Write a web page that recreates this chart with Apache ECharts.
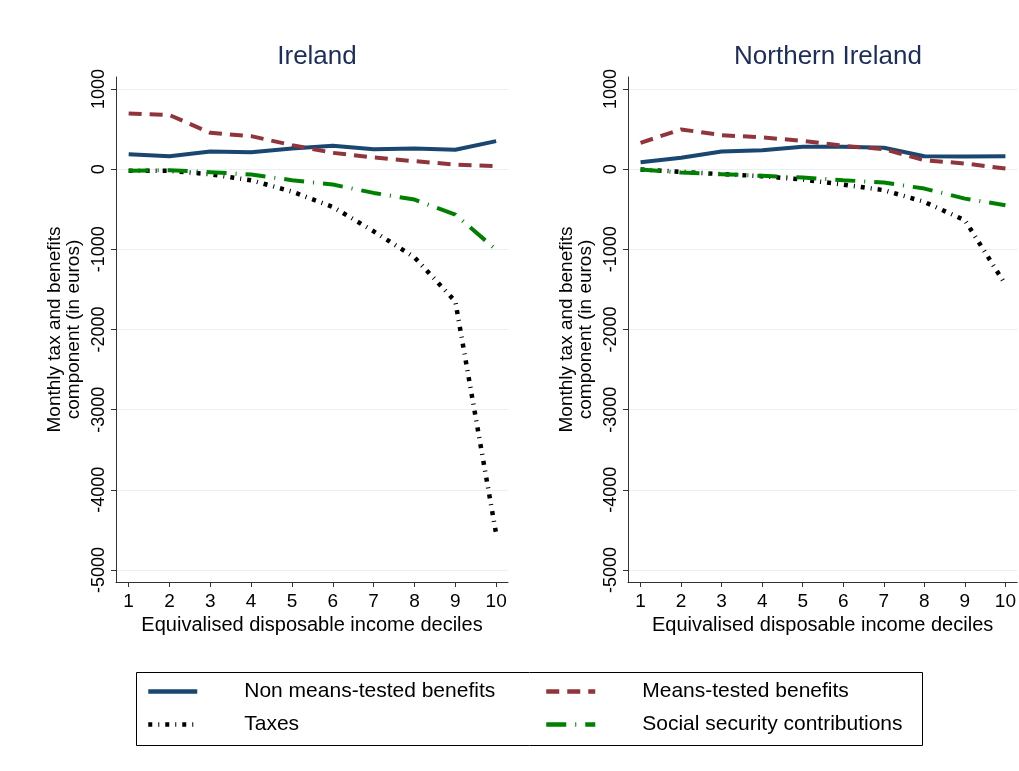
<!DOCTYPE html>
<html>
<head>
<meta charset="utf-8">
<script src="https://cdn.jsdelivr.net/npm/echarts@6/dist/echarts.min.js"></script>
<style>
html,body{margin:0;padding:0;background:#fff;}
#chart{width:1019px;height:771px;}
</style>
</head>
<body>
<div id="chart"></div>
<script>
const deciles = [1,2,3,4,5,6,7,8,9,10];
const yTicks = [-5000,-4000,-3000,-2000,-1000,0,1000];
const panelTitles = ['Ireland','Northern Ireland'];
const seriesNames = ['Non means-tested benefits','Means-tested benefits','Taxes','Social security contributions'];

// Ireland
const ieNonMeans = [187,162,221,212,258,292,250,258,242,350];
const ieMeans    = [696,675,454,412,300,204,146,100,58,38];
const ieTaxes    = [-21,-21,-63,-138,-280,-471,-775,-1100,-1650,-4550];
const ieSocial   = [-21,-12,-37,-67,-137,-192,-296,-379,-567,-1004];
// Northern Ireland
const niNonMeans = [87,142,221,237,279,279,267,162,158,162];
const niMeans    = [329,496,425,396,354,292,250,112,71,8];
const niTaxes    = [-4,-33,-62,-87,-129,-192,-262,-408,-637,-1440];
const niSocial   = [-4,-42,-62,-83,-104,-137,-167,-242,-367,-450];

const FONT = '"Liberation Sans", Arial, sans-serif';
const styles = [
  {color:'#1a476f', type:'solid', width:4},
  {color:'#90353b', type:[13,8], width:4},
  {color:'#000000', type:[4,6,1,6], width:4.5},
  {color:'#008000', type:[20,9,1,9], width:4}
];
const pair = arr => deciles.map((d,i)=>[d,arr[i]]);
const panels = [[ieNonMeans,ieMeans,ieTaxes,ieSocial],[niNonMeans,niMeans,niTaxes,niSocial]];

const grids = [
  {left:116, top:77, width:392, height:505},
  {left:628, top:77, width:392, height:505}
];
const xAxes = grids.map((g,i)=>({
  type:'value', gridIndex:i, min:0.69, max:10.29,
  name:'Equivalised disposable income deciles', nameLocation:'middle', nameGap:31,
  nameTextStyle:{fontFamily:FONT, fontSize:20, color:'#000'},
  axisLine:{show:true, onZero:false, lineStyle:{color:'#333', width:1}},
  axisTick:{show:true, length:5, customValues:deciles, lineStyle:{color:'#333'}},
  axisLabel:{customValues:deciles, fontFamily:FONT, fontSize:19, color:'#000', margin:10},
  splitLine:{show:false}
}));
const yAxes = grids.map((g,i)=>({
  type:'value', gridIndex:i, min:-5150, max:1150,
  name:'Monthly tax and benefits\ncomponent (in euros)', nameLocation:'middle', nameGap:33,
  nameTextStyle:{fontFamily:FONT, fontSize:19, color:'#000', lineHeight:19},
  axisLine:{show:true, onZero:false, lineStyle:{color:'#333', width:1}},
  axisTick:{show:true, length:5, customValues:yTicks, lineStyle:{color:'#333'}},
  axisLabel:{customValues:yTicks, rotate:90, fontFamily:FONT, fontSize:18, color:'#000', margin:8,
    formatter: v => String(v)},
  splitLine:{show:true, lineStyle:{color:'#eaf0f1', width:1.2}}
}));
const series = [];
panels.forEach((p,gi)=>{
  p.forEach((arr,si)=>{
    series.push({
      name:seriesNames[si], type:'line', xAxisIndex:gi, yAxisIndex:gi,
      data:pair(arr), symbol:'none', showSymbol:false, smooth:false, animation:false,
      lineStyle:{color:styles[si].color, type:styles[si].type, width:styles[si].width, cap:'butt'},
      itemStyle:{color:styles[si].color}
    });
  });
});
const legendPos = [
  {left:146, top:681},{left:544, top:681},{left:146, top:714},{left:544, top:714}
];
const legends = seriesNames.map((n,i)=>({
  data:[n], left:legendPos[i].left, top:legendPos[i].top, padding:0,
  itemWidth:49, itemHeight:20, selectedMode:false,
  itemStyle:{opacity:0},
  lineStyle:{width:4.5},
  textStyle:{fontFamily:FONT, fontSize:21, color:'#000', padding:[0,0,0,42]}
}));
const chart = echarts.init(document.getElementById('chart'), null, {renderer:'canvas'});
chart.setOption({
  backgroundColor:'#fff',
  animation:false,
  title: panelTitles.map((t,i)=>({
    text:t, left: i===0 ? 312 : 823, top:39, textAlign:'center',
    textStyle:{fontFamily:FONT, fontSize:26, fontWeight:'normal', color:'#1c2c5b'}
  })),
  grid:grids, xAxis:xAxes, yAxis:yAxes, series:series, legend:legends,
  graphic:[{type:'rect', shape:{x:136.5, y:672.5, width:786, height:73}, style:{fill:'none', stroke:'#000', lineWidth:1}}]
});
</script>
</body>
</html>
